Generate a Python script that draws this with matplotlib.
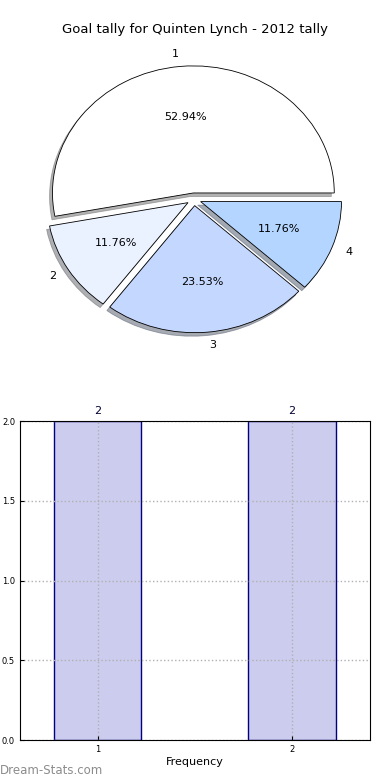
import matplotlib
matplotlib.use("Agg")
import matplotlib.pyplot as plt

title = "Goal tally for Quinten Lynch - 2012 tally"
slice_labels = ["1", "2", "3", "4"]
slice_values = [9, 2, 4, 2]
slice_colors = ["#ffffff", "#eaf1ff", "#c4d7ff", "#b3d5ff"]

bar_x = [1, 2]
bar_heights = [2, 2]

fig = plt.figure(figsize=(3.9, 7.8), dpi=100)

# pie (not equal aspect: the reference is a bit squashed vertically)
ax_pie = fig.add_axes([0.064, 0.549, 0.867, 0.391])
ax_pie.pie(
    slice_values,
    labels=slice_labels,
    colors=slice_colors,
    explode=[0.05] * len(slice_values),
    autopct="%.2f%%",
    shadow={"ox": -0.015, "oy": -0.02, "shade": 0.6},
    startangle=0,
    wedgeprops={"edgecolor": "black", "linewidth": 0.6},
    textprops={"fontsize": 8},
)
ax_pie.set_xlim(-1.2, 1.2)
ax_pie.set_ylim(-1.2, 1.2)
ax_pie.set_aspect("auto")
fig.text(0.5, 1 - 30 / 780, title, ha="center", va="center", fontsize=9.5)

# bars
ax_bar = fig.add_axes([0.051, 0.051, 0.897, 0.409])
bars = ax_bar.bar(bar_x, bar_heights, width=0.45, color="#ccccee", edgecolor="navy", linewidth=1)
for b, h in zip(bars, bar_heights):
    ax_bar.text(b.get_x() + b.get_width() / 2, h + 0.03, str(h), ha="center", va="bottom",
                fontsize=8, color="#000033")
ax_bar.set_xlim(0.6, 2.4)
ax_bar.set_ylim(0, 2.0)
ax_bar.set_xticks(bar_x)
ax_bar.set_yticks([0.0, 0.5, 1.0, 1.5, 2.0])
ax_bar.tick_params(labelsize=6, length=3, direction="in")
ax_bar.grid(True, linestyle=":", color="#b0b0b0", linewidth=1)
for sp in ax_bar.spines.values():
    sp.set_zorder(3)
ax_bar.set_xlabel("Frequency", fontsize=8, labelpad=2)

fig.text(0.0, 1 - 770 / 780, "Dream-Stats.com", fontsize=8.5, color="#8c8c8c",
         ha="left", va="center")

fig.savefig("out.png", dpi=100)
